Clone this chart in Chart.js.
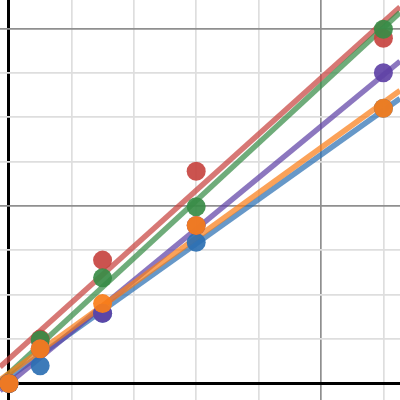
<!DOCTYPE html>
<html>
<head>
<meta charset="utf-8">
<script src="https://cdn.jsdelivr.net/npm/chart.js@4.4.1/dist/chart.umd.min.js"></script>
<style>
  html, body { margin: 0; padding: 0; background: #fff; }
  #wrap { width: 400px; height: 400px; }
</style>
</head>
<body>
<div id="wrap"><canvas id="fit"></canvas></div>
<script>
// sample x positions shared by every series
var xs = [0, 0.5, 1.5, 3, 6];

// point values per series
var redPts = [0, 0.5, 1.39, 2.39, 3.89];
var bluePts = [0, 0.2, 0.79, 1.59, 3.1];
var greenPts = [0, 0.49, 1.19, 1.99, 3.99];
var purplePts = [0, 0.39, 0.79, 1.78, 3.5];
var orangePts = [0, 0.39, 0.9, 1.78, 3.1];

// fitted lines: y at the left and right edge of the view
var lineX = [-0.144, 6.266];
var redFit = [0.186, 4.24];
var greenFit = [0.02, 4.18];
var purpleFit = [-0.08, 3.63];
var orangeFit = [0.04, 3.30];
var blueFit = [0.0, 3.21];

var colors = {
  red: '199,68,64',
  blue: '45,112,179',
  green: '56,140,70',
  purple: '96,66,166',
  orange: '250,126,25'
};

function pts(ys) { return xs.map(function (x, i) { return { x: x, y: ys[i] }; }); }
function fit(ys) { return lineX.map(function (x, i) { return { x: x, y: ys[i] }; }); }

function pointSet(name, ys, order) {
  return {
    type: 'scatter',
    data: pts(ys),
    pointRadius: 9.5,
    pointHoverRadius: 9.5,
    pointBorderWidth: 0,
    backgroundColor: 'rgba(' + colors[name] + ',0.92)',
    clip: false,
    order: order
  };
}
function lineSet(name, ys, order) {
  return {
    type: 'line',
    data: fit(ys),
    borderColor: 'rgba(' + colors[name] + ',0.72)',
    borderWidth: 5.5,
    pointRadius: 0,
    fill: false,
    order: order
  };
}

function gridColor(major) {
  return function (c) {
    var v = c.tick.value;
    if (Math.abs(v) < 1e-6) return '#000';
    if (Math.abs(v % major) < 1e-6) return '#8f8f8f';
    return '#dedede';
  };
}
function gridWidth(c) {
  return Math.abs(c.tick.value) < 1e-6 ? 3 : 1.7;
}

var ctx = document.getElementById('fit').getContext('2d');
new Chart(ctx, {
  data: {
    datasets: [
      pointSet('orange', orangePts, 1),
      pointSet('purple', purplePts, 2),
      pointSet('green', greenPts, 3),
      pointSet('blue', bluePts, 4),
      pointSet('red', redPts, 5),
      lineSet('orange', orangeFit, 6),
      lineSet('purple', purpleFit, 7),
      lineSet('green', greenFit, 8),
      lineSet('blue', blueFit, 9),
      lineSet('red', redFit, 10)
    ]
  },
  options: {
    responsive: true,
    maintainAspectRatio: false,
    animation: false,
    layout: { padding: 0, autoPadding: false },
    plugins: { legend: { display: false }, tooltip: { enabled: false } },
    scales: {
      x: {
        type: 'linear',
        min: -0.144,
        max: 6.266,
        ticks: { display: false, stepSize: 1, includeBounds: false, padding: 0 },
        border: { display: false },
        grid: { drawTicks: false, tickLength: 0, color: gridColor(5), lineWidth: gridWidth }
      },
      y: {
        type: 'linear',
        min: -0.186,
        max: 4.32,
        ticks: { display: false, stepSize: 0.5, includeBounds: false, padding: 0 },
        border: { display: false },
        grid: { drawTicks: false, tickLength: 0, color: gridColor(2), lineWidth: gridWidth }
      }
    }
  }
});
</script>
</body>
</html>
